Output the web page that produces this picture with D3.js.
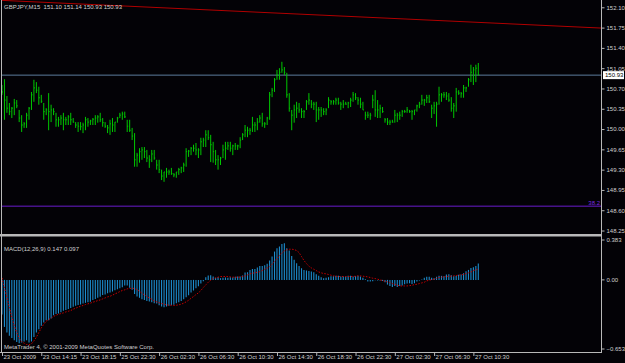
<!DOCTYPE html>
<html>
<head>
<meta charset="utf-8">
<script src="https://cdn.jsdelivr.net/npm/d3@7"></script>
<style>
  body { margin: 0; background: #000; }
  svg { display: block; }
  text { font-family: "Liberation Sans", Arial, sans-serif; font-size: 6px; fill: #d0d0d0; white-space: pre; }
</style>
</head>
<body>
<svg width="625" height="363"></svg>
<script>
// GBPJPY M15 bars, 23 Oct 2009 10:15 -> 27 Oct 2009 11:15
const highs = [
  150.76,150.86,150.57,150.45,150.38,150.52,150.50,150.33,150.24,150.12,
  150.28,150.38,150.64,150.85,150.81,150.73,150.59,150.45,150.36,150.62,
  150.42,150.36,150.28,150.21,150.24,150.28,150.21,150.24,150.28,150.19,
  150.12,150.12,150.12,150.11,150.21,150.19,150.16,150.19,150.24,150.24,
  150.28,150.19,150.12,150.07,150.16,150.19,150.12,150.21,150.28,150.30,
  150.30,150.16,150.16,150.02,149.93,149.59,149.67,149.69,149.69,149.64,
  149.55,149.64,149.64,149.47,149.47,149.30,149.26,149.33,149.30,149.33,
  149.24,149.26,149.33,149.35,149.42,149.67,149.64,149.69,149.73,149.76,
  149.67,149.85,149.85,149.98,149.98,149.90,149.78,149.64,149.55,149.52,
  149.73,149.78,149.78,149.78,149.73,149.76,149.73,149.86,149.93,150.07,
  150.04,150.02,150.21,150.12,150.19,150.24,150.28,150.12,150.21,150.64,
  150.71,150.88,151.02,151.05,151.16,151.07,150.97,150.62,150.33,150.42,
  150.47,150.45,150.36,150.33,150.50,150.62,150.50,150.47,150.47,150.38,
  150.38,150.36,150.36,150.55,150.50,150.50,150.54,150.54,150.47,150.50,
  150.47,150.47,150.54,150.64,150.62,150.55,150.54,150.47,150.30,150.30,
  150.28,150.59,150.67,150.50,150.42,150.38,150.19,150.19,150.16,150.16,
  150.33,150.28,150.30,150.33,150.33,150.38,150.33,150.33,150.33,150.42,
  150.47,150.59,150.52,150.59,150.59,150.42,150.47,150.47,150.73,150.62,
  150.64,150.64,150.62,150.55,150.45,150.71,150.67,150.64,150.76,150.73,
  150.88,151.11,151.07,151.11,151.14
];
const lows = [
  150.59,150.16,150.28,150.24,150.19,150.24,150.36,150.12,149.95,150.02,
  150.02,150.16,150.33,150.47,150.62,150.42,150.45,150.16,150.24,149.98,
  150.12,150.24,150.04,150.04,150.07,149.98,150.07,150.07,150.07,150.11,
  150.02,149.95,149.98,149.93,149.98,150.04,150.07,150.07,150.07,150.11,
  150.12,150.04,150.02,149.93,149.90,149.95,149.95,150.11,150.19,150.16,
  150.19,149.95,149.95,149.81,149.35,149.35,149.42,149.47,149.50,149.43,
  149.33,149.43,149.47,149.30,149.24,149.12,149.09,149.16,149.21,149.21,
  149.17,149.16,149.21,149.24,149.26,149.35,149.52,149.55,149.61,149.55,
  149.50,149.55,149.69,149.69,149.81,149.43,149.42,149.38,149.30,149.38,
  149.50,149.47,149.64,149.61,149.55,149.64,149.64,149.67,149.81,149.86,
  149.86,149.90,149.95,149.95,149.98,150.11,150.04,150.02,150.07,150.16,
  150.55,150.64,150.85,150.85,150.97,150.93,150.54,150.30,149.98,150.11,
  150.19,150.28,150.19,150.19,150.33,150.42,150.36,150.33,150.12,150.16,
  150.21,150.24,150.24,150.36,150.42,150.42,150.42,150.42,150.33,150.36,
  150.42,150.36,150.38,150.47,150.50,150.42,150.36,150.33,150.16,150.19,
  150.16,150.36,150.21,150.19,150.19,150.28,150.11,150.07,150.07,150.11,
  150.11,150.12,150.16,150.21,150.28,150.28,150.28,150.16,150.24,150.30,
  150.36,150.42,150.40,150.45,150.45,150.19,150.26,150.04,150.42,150.47,
  150.54,150.50,150.47,150.30,150.19,150.30,150.59,150.54,150.54,150.64,
  150.73,150.81,150.76,150.81,150.93
];
const closes = [
  150.64,150.50,150.36,150.30,150.36,150.45,150.40,150.19,150.07,150.09,
  150.24,150.36,150.59,150.71,150.67,150.54,150.48,150.30,150.33,150.30,
  150.33,150.30,150.16,150.16,150.19,150.16,150.16,150.21,150.16,150.12,
  150.07,150.05,150.04,150.07,150.16,150.12,150.14,150.17,150.19,150.21,
  150.16,150.11,150.05,150.02,150.09,150.07,150.12,150.19,150.24,150.26,
  150.21,150.05,149.98,149.88,149.47,149.55,149.61,149.64,149.61,149.50,
  149.47,149.57,149.50,149.38,149.30,149.19,149.26,149.26,149.26,149.23,
  149.21,149.26,149.30,149.33,149.38,149.61,149.62,149.67,149.67,149.64,
  149.64,149.78,149.81,149.90,149.85,149.73,149.61,149.47,149.47,149.50,
  149.64,149.67,149.71,149.67,149.71,149.71,149.71,149.81,149.90,149.98,
  149.98,149.98,150.07,150.07,150.12,150.19,150.09,150.09,150.19,150.59,
  150.67,150.85,150.93,150.98,151.02,150.98,150.59,150.36,150.24,150.33,
  150.36,150.33,150.30,150.30,150.47,150.50,150.43,150.43,150.33,150.33,
  150.33,150.30,150.33,150.50,150.47,150.47,150.50,150.45,150.43,150.43,
  150.43,150.45,150.50,150.59,150.54,150.50,150.43,150.33,150.24,150.24,
  150.24,150.50,150.33,150.33,150.36,150.30,150.16,150.12,150.12,150.12,
  150.24,150.24,150.24,150.30,150.30,150.33,150.30,150.30,150.33,150.40,
  150.43,150.50,150.50,150.54,150.47,150.36,150.40,150.43,150.59,150.59,
  150.59,150.57,150.50,150.36,150.40,150.64,150.62,150.61,150.71,150.71,
  150.85,150.98,151.02,151.05,150.93
];

// MACD(12,26,9): main histogram and signal line
const macdMain = [
  -0.31,-0.42,-0.47,-0.50,-0.52,-0.54,-0.555,-0.565,-0.56,-0.55,
  -0.54,-0.56,-0.55,-0.51,-0.47,-0.44,-0.41,-0.38,-0.36,-0.36,
  -0.345,-0.315,-0.305,-0.30,-0.29,-0.275,-0.27,-0.26,-0.25,-0.24,
  -0.23,-0.225,-0.22,-0.21,-0.205,-0.20,-0.195,-0.18,-0.17,-0.16,
  -0.15,-0.135,-0.13,-0.12,-0.113,-0.104,-0.092,-0.083,-0.074,-0.065,
  -0.05,-0.05,-0.07,-0.089,-0.125,-0.149,-0.16,-0.173,-0.179,-0.188,
  -0.193,-0.20,-0.208,-0.21,-0.226,-0.238,-0.244,-0.238,-0.232,-0.226,
  -0.223,-0.208,-0.199,-0.188,-0.173,-0.155,-0.137,-0.113,-0.095,-0.074,
  -0.057,-0.033,-0.012,0.024,0.039,0.042,0.030,0.018,0.024,0.015,
  0.018,0.021,0.018,0.024,0.021,0.027,0.030,0.030,0.039,0.065,
  0.068,0.089,0.098,0.098,0.110,0.125,0.125,0.131,0.143,0.173,
  0.208,0.253,0.283,0.298,0.321,0.327,0.283,0.262,0.214,0.179,
  0.149,0.125,0.104,0.089,0.083,0.080,0.074,0.068,0.051,0.036,
  0.024,0.015,0.018,0.024,0.033,0.033,0.036,0.036,0.030,0.030,
  0.030,0.036,0.036,0.030,0.033,0.036,0.030,0.018,0.006,-0.015,
  -0.015,-0.012,-0.003,-0.006,-0.006,-0.009,-0.021,-0.042,-0.054,-0.063,
  -0.054,-0.063,-0.054,-0.051,-0.039,-0.033,-0.030,-0.036,-0.030,-0.015,
  -0.006,0.003,0.018,0.027,0.027,0.018,0.015,0.027,0.036,0.036,
  0.033,0.048,0.051,0.042,0.033,0.036,0.045,0.048,0.060,0.077,
  0.089,0.107,0.113,0.125,0.147
];
const macdSignal = [
  0.018,-0.071,-0.158,-0.244,-0.333,-0.408,-0.470,-0.518,-0.551,-0.565,
  -0.577,-0.580,-0.571,-0.545,-0.512,-0.470,-0.429,-0.396,-0.369,-0.354,
  -0.342,-0.327,-0.315,-0.307,-0.301,-0.295,-0.286,-0.280,-0.274,-0.262,
  -0.253,-0.244,-0.235,-0.229,-0.220,-0.214,-0.208,-0.199,-0.193,-0.185,
  -0.179,-0.170,-0.161,-0.152,-0.146,-0.137,-0.125,-0.116,-0.104,-0.095,
  -0.089,-0.080,-0.077,-0.074,-0.077,-0.089,-0.101,-0.119,-0.134,-0.149,
  -0.161,-0.173,-0.188,-0.196,-0.205,-0.211,-0.217,-0.223,-0.226,-0.226,
  -0.229,-0.226,-0.223,-0.217,-0.208,-0.196,-0.182,-0.164,-0.149,-0.131,
  -0.116,-0.095,-0.068,-0.045,-0.021,-0.003,0.012,0.018,0.024,0.030,
  0.030,0.030,0.030,0.027,0.024,0.024,0.024,0.024,0.030,0.036,
  0.045,0.054,0.060,0.063,0.068,0.074,0.083,0.095,0.107,0.116,
  0.140,0.164,0.190,0.217,0.241,0.259,0.268,0.274,0.274,0.271,
  0.262,0.244,0.208,0.173,0.146,0.122,0.107,0.095,0.083,0.071,
  0.063,0.057,0.054,0.048,0.042,0.036,0.033,0.030,0.030,0.030,
  0.030,0.030,0.030,0.030,0.033,0.036,0.036,0.033,0.030,0.027,
  0.021,0.015,0.012,0.006,0.000,-0.006,-0.012,-0.018,-0.024,-0.033,
  -0.039,-0.048,-0.054,-0.054,-0.054,-0.054,-0.051,-0.048,-0.042,-0.039,
  -0.033,-0.027,-0.021,-0.009,-0.003,0.003,0.006,0.015,0.021,0.024,
  0.027,0.030,0.033,0.033,0.036,0.039,0.042,0.045,0.048,0.057,
  0.063,0.071,0.083,0.089,0.097
];

const priceTicks = [152.10,151.75,151.40,151.05,150.70,150.35,150.00,149.65,149.30,148.95,148.60,148.25];
const macdTicks = [0.383, 0.00, -0.653];
const timeTickBars = [0,16,32,48,64,80,96,112,128,144,160,176,192];
const timeLabels = ["23 Oct 2009","23 Oct 14:15","23 Oct 18:15","25 Oct 22:30","26 Oct 02:30","26 Oct 06:30",
  "26 Oct 10:30","26 Oct 14:30","26 Oct 18:30","26 Oct 22:30","27 Oct 02:30","27 Oct 06:30","27 Oct 10:30"];

const headerText = "GBPJPY,M15  151.10 151.14 150.93 150.93";
const macdText = "MACD(12,26,9) 0.147 0.097";
const copyText = "MetaTrader 4, \u00a9 2001-2009 MetaQuotes Software Corp.";
const bidPrice = 150.93;
const fiboPrice = 148.67, fiboLabel = "38.2";
const trendPoints = [{bar: 10, price: 152.20}, {bar: 194, price: 151.84}];

const svg = d3.select("svg");
const width = +svg.attr("width");
const height = +svg.attr("height");
const axisX = 602, mainTop = 0, mainBottom = 234, macdTop = 237, macdBottom = 353;
const font = '"Liberation Sans", Arial, sans-serif';

svg.append("rect").attr("width", width).attr("height", height).attr("fill", "#030206");

const x = d3.scaleLinear().domain([0, highs.length - 1]).range([2, 478.3]);
const y = d3.scaleLinear().domain([148.19, 152.226]).range([mainBottom, mainTop]);
const ym = d3.scaleLinear().domain([-0.653, 0.383]).range([macdBottom, macdTop]);

const defs = svg.append("defs");
defs.append("clipPath").attr("id", "clipMain").append("rect")
  .attr("x", 2).attr("y", mainTop).attr("width", axisX - 2).attr("height", mainBottom - mainTop);
defs.append("clipPath").attr("id", "clipMacd").append("rect")
  .attr("x", 2).attr("y", macdTop).attr("width", axisX - 2).attr("height", macdBottom - macdTop);

// main panel
const main = svg.append("g").attr("clip-path", "url(#clipMain)");

main.append("line")
  .attr("x1", 2).attr("x2", axisX).attr("y1", y(bidPrice)).attr("y2", y(bidPrice))
  .attr("stroke", "#5d7d9c").attr("stroke-width", 1);

main.append("line")
  .attr("x1", 2).attr("x2", axisX).attr("y1", y(fiboPrice)).attr("y2", y(fiboPrice))
  .attr("stroke", "#6a1ccc").attr("stroke-width", 1);

const slope = (trendPoints[1].price - trendPoints[0].price) / (trendPoints[1].bar - trendPoints[0].bar);
const barAt = x.invert;
main.append("line")
  .attr("x1", 0).attr("y1", y(trendPoints[0].price + slope * (barAt(0) - trendPoints[0].bar)))
  .attr("x2", axisX).attr("y2", y(trendPoints[0].price + slope * (barAt(axisX) - trendPoints[0].bar)))
  .attr("stroke", "#b00000").attr("stroke-width", 1);

const bars = d3.range(highs.length);
main.selectAll("line.bar").data(bars).enter().append("line")
  .attr("class", "bar")
  .attr("x1", i => x(i)).attr("x2", i => x(i))
  .attr("y1", i => y(highs[i])).attr("y2", i => y(lows[i]))
  .attr("stroke", "#00c800").attr("stroke-width", 1);
main.selectAll("line.cl").data(bars).enter().append("line")
  .attr("class", "cl")
  .attr("x1", i => x(i)).attr("x2", i => x(i) + 1)
  .attr("y1", i => y(closes[i])).attr("y2", i => y(closes[i]))
  .attr("stroke", "#00c800").attr("stroke-width", 1);

main.append("text").attr("x", axisX - 2).attr("y", y(fiboPrice) - 1.5)
  .attr("text-anchor", "end").style("fill", "#7a2ae0").text(fiboLabel);

// macd panel
const macd = svg.append("g").attr("clip-path", "url(#clipMacd)");
macd.selectAll("line.h").data(bars).enter().append("line")
  .attr("class", "h")
  .attr("x1", i => x(i)).attr("x2", i => x(i))
  .attr("y1", ym(0)).attr("y2", i => ym(macdMain[i]))
  .attr("stroke", "#1c8ccc").attr("stroke-width", 1.1);
macd.append("path")
  .attr("d", d3.line().x((d, i) => x(i)).y(d => ym(d))(macdSignal))
  .attr("fill", "none").attr("stroke", "#c80000").attr("stroke-width", 1)
  .attr("stroke-dasharray", "1.5,1.5");

// frame
const frame = "#b8b8b8";
svg.append("line").attr("x1", 1.5).attr("x2", 1.5).attr("y1", 0).attr("y2", macdBottom).attr("stroke", frame);
svg.append("rect").attr("x", 0).attr("y", mainBottom).attr("width", axisX).attr("height", 2.5).attr("fill", frame);
svg.append("line").attr("x1", 0).attr("x2", axisX).attr("y1", macdBottom - 0.5).attr("y2", macdBottom - 0.5).attr("stroke", frame);

// price axis
const yAxis = d3.axisRight(y).tickValues(priceTicks).tickSize(3).tickPadding(2).tickFormat(d3.format(".2f"));
const ya = svg.append("g").attr("transform", `translate(${axisX - 0.5},0)`).call(yAxis);
ya.select(".domain").attr("d", `M0,0V${macdBottom}`).attr("stroke", frame);
ya.selectAll(".tick line").attr("stroke", frame);
ya.selectAll(".tick text").style("font-size", "6px").style("fill", "#d0d0d0").style("font-family", font);

// bid label box
const bid = svg.append("g").attr("transform", `translate(${axisX + 1},${y(bidPrice)})`);
bid.append("rect").attr("x", 0).attr("y", -4).attr("width", 21).attr("height", 8).attr("fill", "#fff");
bid.append("text").attr("x", 2).attr("dy", "0.34em").style("fill", "#000").text(d3.format(".2f")(bidPrice));

// macd axis
const mAxis = d3.axisRight(ym).tickValues(macdTicks).tickSize(3).tickPadding(2)
  .tickFormat(d => d === 0 ? "0.00" : d3.format(".3f")(d));
const ma = svg.append("g").attr("transform", `translate(${axisX - 0.5},0)`).call(mAxis);
ma.select(".domain").remove();
ma.selectAll(".tick line").attr("stroke", frame);
ma.selectAll(".tick").attr("transform", d => `translate(0,${Math.min(Math.max(ym(d), macdTop + 3), macdBottom - 4)})`);
ma.selectAll(".tick text").style("font-size", "6px").style("fill", "#d0d0d0").style("font-family", font);

// time axis
const tAxis = d3.axisBottom(x).tickValues(timeTickBars).tickSize(3).tickPadding(1)
  .tickFormat((d, i) => timeLabels[i]);
const ta = svg.append("g").attr("transform", `translate(0,${macdBottom})`).call(tAxis);
ta.select(".domain").remove();
ta.selectAll(".tick line").attr("stroke", frame);
ta.selectAll(".tick text").attr("text-anchor", "start").attr("x", 1).attr("y", 2)
  .style("font-size", "6px").style("fill", "#d0d0d0").style("font-family", font);

// labels
svg.append("text").attr("x", 4).attr("y", 8.5).text(headerText);
svg.append("text").attr("x", 4).attr("y", 251).text(macdText);
svg.append("text").attr("x", 4).attr("y", 349).text(copyText);
</script>
</body>
</html>
